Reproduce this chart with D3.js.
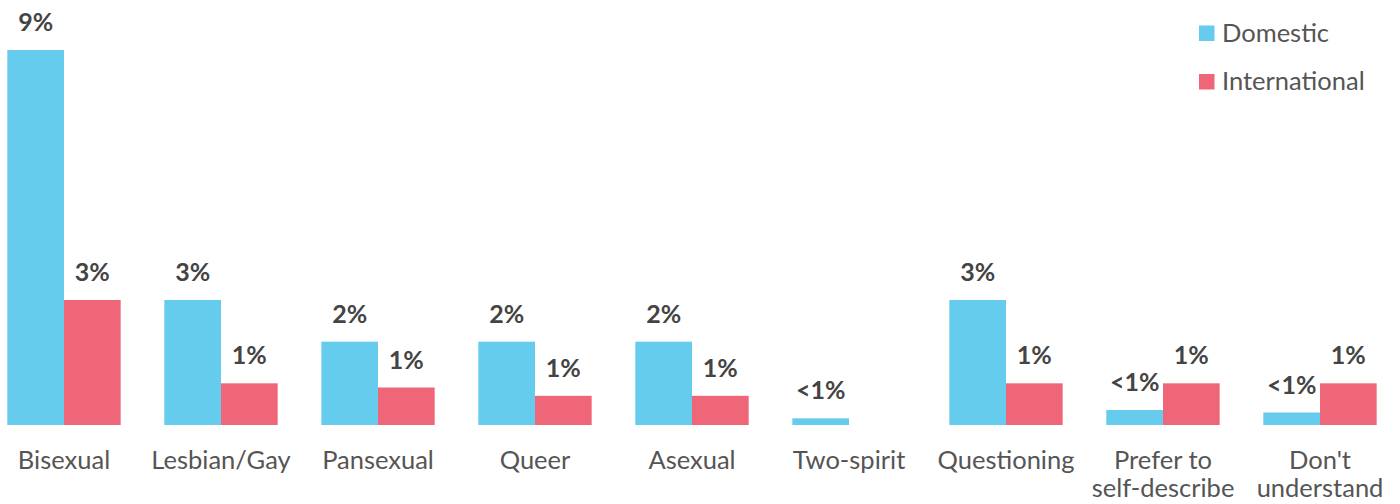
<!DOCTYPE html>
<html>
<head>
<meta charset="utf-8">
<script src="https://cdn.jsdelivr.net/npm/d3@7"></script>
<style>
  body { margin: 0; background: #fff; }
  text { font-family: "Source Sans Pro", Lato, "Noto Sans", sans-serif; }
</style>
</head>
<body>
<svg id="chart"></svg>
<script>
// categories and series
var categories = ["Bisexual", "Lesbian/Gay", "Pansexual", "Queer", "Asexual",
                  "Two-spirit", "Questioning", "Prefer to self-describe", "Don't understand"];
var seriesNames = ["Domestic", "International"];
var domestic = [9, 3, 2, 2, 2, 0.16, 3, 0.36, 0.3];
var international = [3, 1, 0.9, 0.7, 0.7, 0, 1, 1, 1];
var domesticLabels = ["9%", "3%", "2%", "2%", "2%", "<1%", "3%", "<1%", "<1%"];
var internationalLabels = ["3%", "1%", "1%", "1%", "1%", "", "1%", "1%", "1%"];

var width = 1400, height = 504;
var colors = { "Domestic": "#66CCEE", "International": "#EE6677" };

var svg = d3.select("svg#chart")
    .attr("width", width)
    .attr("height", height);

// x scales
var x = d3.scaleBand()
    .domain(categories)
    .range([-14.5, 1398.5])
    .paddingInner(0.278)
    .paddingOuter(0.139);

var xSub = d3.scaleBand()
    .domain(seriesNames)
    .range([0, x.bandwidth()]);

var y = d3.scaleLinear()
    .domain([0, 9])
    .range([425, 50]);

// build rows from the arrays
var rows = [];
categories.forEach(function(c, i) {
    rows.push({cat: c, series: "Domestic", value: domestic[i], label: domesticLabels[i]});
    rows.push({cat: c, series: "International", value: international[i], label: internationalLabels[i]});
});

// bars
svg.selectAll("rect.bar")
    .data(rows.filter(function(d) { return d.value > 0; }))
    .enter()
    .append("rect")
    .attr("class", "bar")
    .attr("x", function(d) { return x(d.cat) + xSub(d.series); })
    .attr("y", function(d) { return y(d.value); })
    .attr("width", xSub.bandwidth())
    .attr("height", function(d) { return y(0) - y(d.value); })
    .attr("fill", function(d) { return colors[d.series]; });

// value labels
svg.selectAll("text.val")
    .data(rows.filter(function(d) { return d.label; }))
    .enter()
    .append("text")
    .attr("class", "val")
    .attr("x", function(d) { return x(d.cat) + xSub(d.series) + xSub.bandwidth() / 2; })
    .attr("y", function(d) { return y(d.value) - 19; })
    .attr("text-anchor", "middle")
    .style("font-size", "25px")
    .style("font-weight", "bold")
    .style("fill", "#444")
    .text(function(d) { return d.label; });

// x axis labels (no line, no ticks)
var xAxis = svg.append("g")
    .attr("transform", "translate(0," + y(0) + ")")
    .call(d3.axisBottom(x).tickSize(0).tickPadding(0));
xAxis.select(".domain").remove();
xAxis.selectAll("text")
    .attr("y", 44)
    .attr("dy", 0)
    .style("font-size", "25.5px")
    .style("fill", "#555")
    .call(wrap, 150);

function wrap(texts, w) {
    texts.each(function() {
        var text = d3.select(this),
            words = text.text().split(/\s+/),
            line = [],
            lineNo = 0,
            yy = text.attr("y"),
            tspan = text.text(null).append("tspan").attr("x", 0).attr("y", yy);
        words.forEach(function(word) {
            line.push(word);
            tspan.text(line.join(" "));
            if (tspan.node().getComputedTextLength() > w && line.length > 1) {
                line.pop();
                tspan.text(line.join(" "));
                line = [word];
                lineNo++;
                tspan = text.append("tspan").attr("x", 0).attr("y", +yy + lineNo * 28).text(word);
            }
        });
    });
}

// legend
var legend = svg.selectAll("g.legend")
    .data(seriesNames)
    .enter()
    .append("g")
    .attr("class", "legend")
    .attr("transform", function(d, i) { return "translate(1199," + (25.5 + i * 48.5) + ")"; });

legend.append("rect")
    .attr("width", 15.5)
    .attr("height", 15.5)
    .attr("fill", function(d) { return colors[d]; });

legend.append("text")
    .attr("x", 23)
    .attr("y", 16)
    .style("font-size", "25.5px")
    .style("fill", "#555")
    .text(function(d) { return d; });
</script>
</body>
</html>
